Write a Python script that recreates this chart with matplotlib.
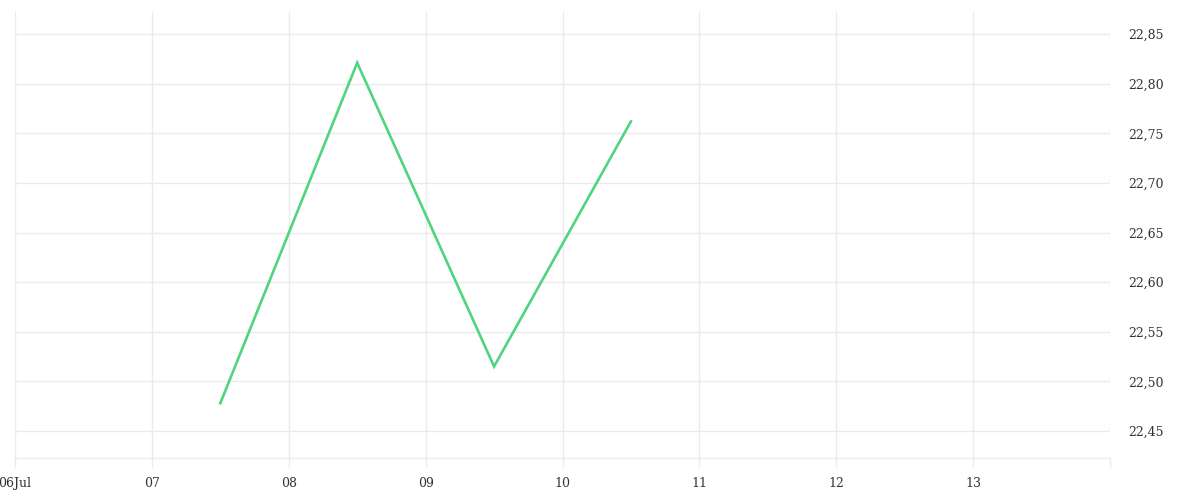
import matplotlib
matplotlib.use("Agg")
import matplotlib.pyplot as plt
import matplotlib.dates as mdates
from matplotlib.ticker import FixedLocator, FuncFormatter
from datetime import datetime

# Data
times = ["2023-07-07 12:00", "2023-07-08 12:00", "2023-07-09 12:00", "2023-07-10 12:00"]
values = [22.478, 22.821, 22.515, 22.762]
x_tick_days = ["2023-07-06", "2023-07-07", "2023-07-08", "2023-07-09", "2023-07-10",
               "2023-07-11", "2023-07-12", "2023-07-13", "2023-07-14"]
x_tick_labels = ["06Jul", "07", "08", "09", "10", "11", "12", "13", ""]
y_ticks = [22.45, 22.50, 22.55, 22.60, 22.65, 22.70, 22.75, 22.80, 22.85]

plt.rcParams['font.family'] = ['DejaVu Serif']

fig = plt.figure(figsize=(12, 5), dpi=100)
ax = fig.add_axes([15/1200, 42/500, (1110-15)/1200, (458-12)/500])

xs = [datetime.strptime(t, "%Y-%m-%d %H:%M") for t in times]
ax.plot(xs, values, color="#4fd47f", linewidth=1.9, solid_joinstyle="miter", zorder=3)

xt = [mdates.date2num(datetime.strptime(d, "%Y-%m-%d")) for d in x_tick_days]
ax.set_xlim(xt[0], xt[-1])
ax.set_ylim(22.4228, 22.8722)

ax.xaxis.set_major_locator(FixedLocator(xt))
ax.set_xticklabels(x_tick_labels)
ax.yaxis.set_major_locator(FixedLocator(y_ticks))
ax.yaxis.set_major_formatter(FuncFormatter(lambda v, p: f"{v:.2f}".replace(".", ",")))
ax.yaxis.tick_right()

gc = "#ebebeb"
ax.grid(True, color=gc, linewidth=1.0)
for s in ["top", "left", "right"]:
    ax.spines[s].set_visible(False)
ax.spines["bottom"].set_color(gc)
ax.spines["bottom"].set_linewidth(1.0)

ax.tick_params(axis="x", length=6.5, width=1.0, color=gc, pad=7, labelsize=9, labelcolor="#333333")
ax.tick_params(axis="y", length=0, pad=13, labelsize=9, labelcolor="#333333")

fig.savefig("out.png", dpi=100, facecolor="white")
